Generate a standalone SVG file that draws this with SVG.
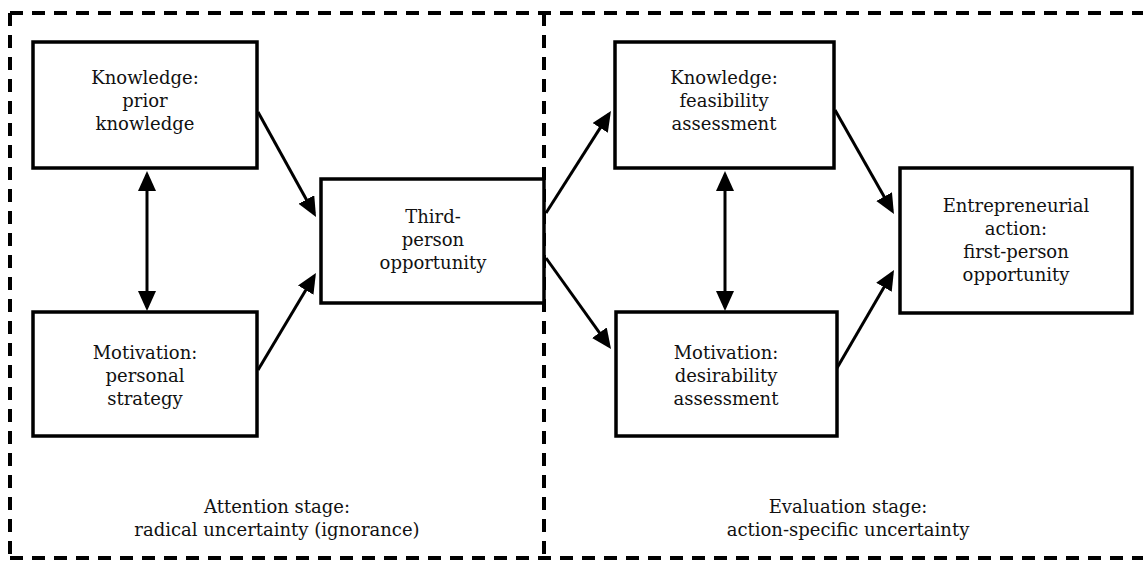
<svg xmlns="http://www.w3.org/2000/svg" width="1143" height="563" viewBox="0 0 1143 563">
  <style>
    .frame { fill: none; stroke: #000; stroke-width: 4; stroke-dasharray: 13 9; }
    .box { fill: #fff; stroke: #000; stroke-width: 3.5; }
    .conn { fill: none; stroke: #000; stroke-width: 3; }
    .lbl { font-family: "DejaVu Serif", "Liberation Serif", serif; font-size: 18px; fill: #111; text-anchor: middle; }
  </style>
  <defs>
    <marker id="head" markerUnits="userSpaceOnUse" markerWidth="22" markerHeight="20" viewBox="0 0 22 20" refX="16" refY="9" orient="auto-start-reverse">
      <path d="M0,0 L20,9 L0,18 z" fill="#000"/>
    </marker>
  </defs>
  <rect width="1143" height="563" fill="#fff"/>

  <!-- stage frames -->
  <g id="frames">
    <line class="frame" x1="10" y1="13" x2="1143" y2="13"/>
    <line class="frame" x1="10" y1="558" x2="1143" y2="558"/>
    <line class="frame" x1="10" y1="13" x2="10" y2="558"/>
    <line class="frame" x1="544" y1="13" x2="544" y2="558"/>
  </g>

  <!-- connectors -->
  <g id="connectors">
    <line class="conn" x1="258" y1="112" x2="314.1" y2="213.5" marker-end="url(#head)"/>
    <line class="conn" x1="258" y1="370" x2="313.9" y2="276.4" marker-end="url(#head)"/>
    <line class="conn" x1="546" y1="213" x2="608.8" y2="114.4" marker-end="url(#head)"/>
    <line class="conn" x1="546" y1="258" x2="608.7" y2="345.7" marker-end="url(#head)"/>
    <line class="conn" x1="835" y1="110" x2="892" y2="210.5" marker-end="url(#head)"/>
    <line class="conn" x1="837" y1="368" x2="892" y2="273.5" marker-end="url(#head)"/>
    <line class="conn" x1="147" y1="175" x2="147" y2="307" marker-start="url(#head)" marker-end="url(#head)"/>
    <line class="conn" x1="725" y1="175" x2="725" y2="307" marker-start="url(#head)" marker-end="url(#head)"/>
  </g>

  <g id="prior-knowledge">
    <rect class="box" x="33" y="42" width="224" height="126"/>
    <text class="lbl" x="145" y="84">Knowledge:</text>
    <text class="lbl" x="145" y="107">prior</text>
    <text class="lbl" x="145" y="130">knowledge</text>
  </g>

  <g id="personal-strategy">
    <rect class="box" x="33" y="312" width="224" height="124"/>
    <text class="lbl" x="145" y="359">Motivation:</text>
    <text class="lbl" x="145" y="382">personal</text>
    <text class="lbl" x="145" y="405">strategy</text>
  </g>

  <g id="third-person-opportunity">
    <rect class="box" x="321" y="179" width="223" height="124"/>
    <text class="lbl" x="433" y="223">Third-</text>
    <text class="lbl" x="433" y="246">person</text>
    <text class="lbl" x="433" y="269">opportunity</text>
  </g>

  <g id="feasibility-assessment">
    <rect class="box" x="615" y="42" width="219" height="126"/>
    <text class="lbl" x="724" y="84">Knowledge:</text>
    <text class="lbl" x="724" y="107">feasibility</text>
    <text class="lbl" x="724" y="130">assessment</text>
  </g>

  <g id="desirability-assessment">
    <rect class="box" x="616" y="312" width="221" height="124"/>
    <text class="lbl" x="726" y="359">Motivation:</text>
    <text class="lbl" x="726" y="382">desirability</text>
    <text class="lbl" x="726" y="405">assessment</text>
  </g>

  <g id="entrepreneurial-action">
    <rect class="box" x="900" y="168" width="232" height="145"/>
    <text class="lbl" x="1016" y="212">Entrepreneurial</text>
    <text class="lbl" x="1016" y="235">action:</text>
    <text class="lbl" x="1016" y="258">first-person</text>
    <text class="lbl" x="1016" y="281">opportunity</text>
  </g>

  <g id="attention-stage">
    <text class="lbl" x="277" y="513">Attention stage:</text>
    <text class="lbl" x="277" y="536">radical uncertainty (ignorance)</text>
  </g>

  <g id="evaluation-stage">
    <text class="lbl" x="848" y="513">Evaluation stage:</text>
    <text class="lbl" x="848" y="536">action-specific uncertainty</text>
  </g>
</svg>
